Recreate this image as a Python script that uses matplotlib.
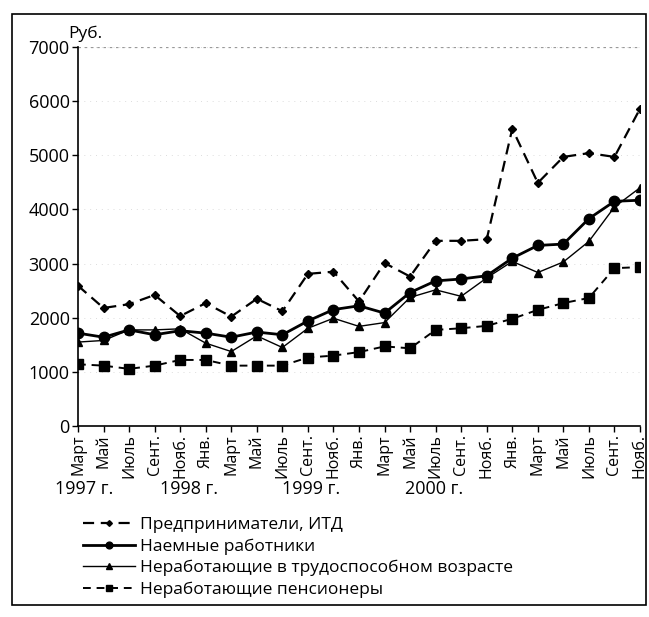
import matplotlib
matplotlib.use("Agg")
import matplotlib.pyplot as plt
from matplotlib.patches import Rectangle

plt.rcParams['font.family'] = ['Open Sans', 'DejaVu Sans']

months = ["Март", "Май", "Июль", "Сент.", "Нояб.",
          "Янв.", "Март", "Май", "Июль", "Сент.", "Нояб.",
          "Янв.", "Март", "Май", "Июль", "Сент.", "Нояб.",
          "Янв.", "Март", "Май", "Июль", "Сент.", "Нояб."]
years = ["1997 г.", "1998 г.", "1999 г.", "2000 г."]

entrepreneurs = [2590, 2180, 2250, 2420, 2030, 2270, 2020, 2350, 2120, 2810, 2850,
                 2300, 3010, 2760, 3420, 3420, 3450, 5490, 4490, 4970, 5040, 4970, 5860]
employees = [1715, 1640, 1775, 1685, 1760, 1715, 1640, 1735, 1685, 1940, 2150,
             2220, 2085, 2465, 2680, 2715, 2775, 3100, 3335, 3360, 3830, 4150, 4170]
nonworking = [1550, 1580, 1775, 1775, 1795, 1530, 1375, 1665, 1450, 1805, 1990,
              1840, 1910, 2375, 2515, 2395, 2735, 3040, 2835, 3030, 3410, 4045, 4400]
pensioners = [1140, 1115, 1055, 1115, 1220, 1220, 1115, 1115, 1115, 1265, 1300,
              1365, 1470, 1435, 1775, 1805, 1850, 1980, 2145, 2270, 2365, 2915, 2935]

labels = ["Предприниматели, ИТД", "Наемные работники",
          "Неработающие в трудоспособном возрасте", "Неработающие пенсионеры"]

W, H = 649, 617
fig = plt.figure(figsize=(W / 100, H / 100), dpi=100)
ax = fig.add_axes([78 / W, 1 - 426 / H, (640 - 78) / W, (426 - 47) / H])

x = list(range(len(months)))
ax.plot(x, entrepreneurs, color='black', lw=1.6, ls=(0, (5, 3)), marker='D', ms=4.5,
        label=labels[0])
ax.plot(x, employees, color='black', lw=2.0, ls='-', marker='o', ms=7.5, label=labels[1])
ax.plot(x, nonworking, color='black', lw=1.0, ls='-', marker='^', ms=6, label=labels[2])
ax.plot(x, pensioners, color='black', lw=1.4, ls=(0, (4, 3)), marker='s', ms=7.5,
        label=labels[3])

ax.set_xlim(0, len(months) - 1)
ax.set_ylim(0, 7000)
ax.set_yticks(range(0, 7001, 1000))
ax.set_xticks(x)
ax.set_xticklabels(months, rotation=90, fontsize=11.5)
ax.tick_params(axis='y', labelsize=13, length=4, width=1, pad=2)
ax.tick_params(axis='x', length=4, width=1, pad=2)
for s in ['top', 'right']:
    ax.spines[s].set_visible(False)
for s in ['left', 'bottom']:
    ax.spines[s].set_linewidth(1.2)
ax.yaxis.grid(True, color='#dddddd', ls=(0, (1, 5)), lw=0.7)
ax.axhline(7000, color='#999999', ls=(0, (2, 3)), lw=0.9)
ax.set_axisbelow(True)

fig.text(68 / W, 1 - 34 / H, "Руб.", fontsize=12.5, va='center', ha='left')

year_x = [55, 160, 282, 405]
for yx, yl in zip(year_x, years):
    fig.text(yx / W, 1 - 489 / H, yl, fontsize=13, va='center', ha='left')

leg = fig.legend(loc='upper left', bbox_to_anchor=(76 / W, 1 - 510 / H),
                 frameon=False, fontsize=12.5, handlelength=3.0, handletextpad=0.3,
                 labelspacing=0.3, borderaxespad=0, markerscale=0.65)

fig.patches.append(Rectangle((12 / W, 1 - 605 / H), 634 / W, 591 / H,
                             transform=fig.transFigure, fill=False,
                             edgecolor='black', lw=1.2))

fig.savefig("out.png", dpi=100)
